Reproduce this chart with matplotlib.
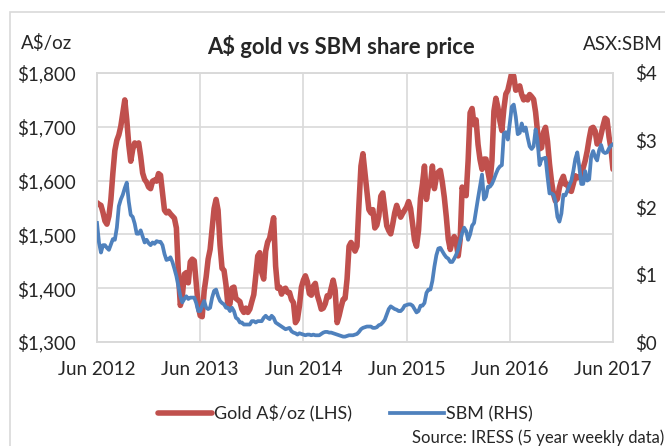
import pandas as pd
import matplotlib.pyplot as plt
import matplotlib.dates as mdates
from matplotlib.ticker import FuncFormatter
from matplotlib.patches import Rectangle

# Weekly data, Jun 2012 - Jun 2017
weeks = pd.date_range("2012-06-08", periods=261, freq="W-FRI")

gold_aud = [
    1559, 1556, 1554, 1541, 1525, 1519, 1534, 1565, 1614, 1656,
    1675, 1685, 1701, 1726, 1750, 1713, 1667, 1636, 1658, 1670,
    1667, 1670, 1645, 1614, 1602, 1597, 1588, 1585, 1599, 1601,
    1599, 1613, 1610, 1577, 1545, 1540, 1543, 1538, 1534, 1530,
    1512, 1429, 1368, 1386, 1426, 1429, 1410, 1449, 1454, 1451,
    1410, 1367, 1349, 1347, 1395, 1421, 1454, 1472, 1511, 1548,
    1565, 1545, 1480, 1437, 1433, 1406, 1367, 1371, 1400, 1402,
    1381, 1378, 1375, 1361, 1355, 1363, 1355, 1361, 1375, 1388,
    1423, 1460,
    1466, 1429, 1417, 1469, 1486, 1493, 1512, 1531, 1441, 1400,
    1402, 1389, 1398, 1400, 1392, 1392, 1379, 1373, 1336, 1342,
    1367, 1402, 1415, 1423, 1412, 1390, 1387, 1404, 1409, 1387,
    1375, 1361, 1363, 1371, 1386, 1384, 1400, 1415, 1396, 1336,
    1349, 1365, 1379, 1381, 1417, 1478, 1485, 1478, 1469, 1478,
    1556, 1627, 1650, 1614, 1580, 1546, 1540, 1546, 1512, 1517,
    1534, 1571, 1577, 1546, 1516, 1507, 1501, 1519, 1540, 1554,
    1542, 1532, 1539, 1545, 1551, 1561, 1548, 1520, 1489, 1478,
    1507, 1567, 1594, 1627, 1565, 1590,
    1593, 1627, 1585, 1606, 1616, 1619, 1597, 1569, 1533, 1491,
    1472, 1488, 1496, 1486, 1460, 1491, 1588, 1574, 1572, 1637,
    1726, 1734, 1704, 1713, 1667, 1639, 1621, 1640, 1640, 1616,
    1597, 1637, 1729, 1753, 1736, 1711, 1693, 1733, 1761, 1768,
    1784, 1801, 1794, 1768, 1770, 1776, 1760, 1750, 1755, 1750,
    1760, 1756, 1751, 1727, 1690, 1659, 1661, 1690, 1699, 1673,
    1631, 1599, 1575, 1562, 1566, 1587, 1600, 1608, 1593, 1593,
    1582, 1580, 1594, 1609, 1605, 1607, 1607, 1624, 1637, 1655,
    1678, 1697, 1699, 1692, 1668, 1671, 1686, 1702, 1716, 1713,
    1681, 1659, 1621,
]

sbm_price = [
    1.77, 1.48, 1.33, 1.44, 1.44, 1.40, 1.37, 1.45, 1.53, 1.52,
    1.70, 2.02, 2.12, 2.19, 2.29, 2.37, 2.09, 1.89, 1.86, 1.76,
    1.61, 1.61, 1.66, 1.57, 1.48, 1.52, 1.47, 1.44, 1.48, 1.46,
    1.50, 1.49, 1.49, 1.44, 1.31, 1.22, 1.23, 1.26, 1.19, 1.09,
    0.98, 0.83, 0.68, 0.59, 0.64, 0.68, 0.64, 0.66, 0.66, 0.66,
    0.58, 0.46, 0.46, 0.54, 0.61, 0.51, 0.49, 0.51, 0.66, 0.76,
    0.78, 0.68, 0.61, 0.58, 0.56, 0.51, 0.51, 0.46, 0.51, 0.46,
    0.36, 0.34, 0.29, 0.29, 0.26, 0.26, 0.26, 0.26, 0.31, 0.31,
    0.29, 0.31,
    0.31, 0.31, 0.36, 0.39, 0.36, 0.34, 0.39, 0.36, 0.29, 0.27,
    0.25, 0.23, 0.21, 0.19, 0.20, 0.21, 0.16, 0.14, 0.13, 0.11,
    0.13, 0.12, 0.11, 0.10, 0.11, 0.11, 0.10, 0.11, 0.10, 0.10,
    0.10, 0.12, 0.14, 0.15, 0.15, 0.14, 0.14, 0.13, 0.12, 0.11,
    0.10, 0.09, 0.08, 0.08, 0.09, 0.10, 0.10, 0.10, 0.11, 0.12,
    0.15, 0.19, 0.21, 0.22, 0.23, 0.23, 0.23, 0.21, 0.21, 0.22,
    0.25, 0.26, 0.29, 0.33, 0.41, 0.49, 0.53, 0.51, 0.49, 0.48,
    0.46, 0.46, 0.49, 0.54, 0.55, 0.56, 0.56, 0.54, 0.49, 0.44,
    0.46, 0.54, 0.54, 0.58, 0.73, 0.78,
    0.78, 0.91, 1.12, 1.29, 1.39, 1.40, 1.35, 1.30, 1.26, 1.24,
    1.19, 1.19, 1.24, 1.30, 1.38, 1.50, 1.62, 1.70, 1.65, 1.52,
    1.60, 1.73, 1.77, 1.96, 2.14, 2.32, 2.49, 2.12, 2.16, 2.31,
    2.31, 2.35, 2.42, 2.50, 2.57, 2.61, 2.63, 3.10, 3.12, 3.01,
    3.26, 3.50, 3.53, 3.35, 3.09, 3.11, 3.25, 3.14, 3.19, 3.04,
    2.91, 2.87, 2.91, 3.16, 2.99, 2.63, 2.72, 2.73, 2.74, 2.46,
    2.21, 2.21, 2.19, 2.09, 1.86, 1.79, 1.91, 2.19, 2.18, 2.25,
    2.33, 2.40, 2.54, 2.72, 2.82, 2.61, 2.35, 2.35, 2.54, 2.40,
    2.42, 2.76, 2.84, 2.75, 2.70, 2.85, 2.93, 2.83, 2.81, 2.82,
    2.88, 2.92, 2.94,
]

gold_ticks = [1300, 1400, 1500, 1600, 1700, 1800]
sbm_ticks = [0, 1, 2, 3, 4]

RED = "#C0504D"
BLUE = "#4F81BD"
GRID = "#D9D9D9"
TXT = "#262626"

plt.rcParams["font.family"] = ["Lato", "DejaVu Sans"]
plt.rcParams["font.size"] = 13.5

fig = plt.figure(figsize=(6.65, 4.46), dpi=100)
ax = fig.add_axes([97 / 665, 1 - 342 / 446, (613 - 97) / 665, (342 - 73) / 446])

# outer chart frame
fig.patches.append(Rectangle((10 / 665, -0.1), 1.2, 1 - 12 / 446 + 0.1,
                             transform=fig.transFigure, fill=False,
                             edgecolor=GRID, linewidth=1.2))

line_g, = ax.plot(weeks, gold_aud, color=RED, linewidth=4.0,
                  solid_joinstyle="round", solid_capstyle="round", zorder=2)
ax.set_ylim(1300, 1800)
ax.set_yticks(gold_ticks)
ax.yaxis.set_major_formatter(FuncFormatter(lambda v, p: f"${v:,.0f}"))
ax.set_xlim(weeks[0], weeks[-1])
ax.set_xticks(weeks[::52])
ax.xaxis.set_major_formatter(mdates.DateFormatter("%b %Y"))
ax.grid(True, color=GRID, linewidth=1.2)
ax.set_axisbelow(True)

ax2 = ax.twinx()
line_s, = ax2.plot(weeks, sbm_price, color=BLUE, linewidth=2.7,
                   solid_joinstyle="round", zorder=3)
ax2.set_ylim(0, 4)
ax2.set_yticks(sbm_ticks)
ax2.yaxis.set_major_formatter(FuncFormatter(lambda v, p: f"${v:.0f}"))

for a in (ax, ax2):
    for s in a.spines.values():
        s.set_color(GRID)
        s.set_linewidth(1.2)
    a.tick_params(length=0, colors=TXT, labelsize=13.5)
ax.tick_params(axis="y", pad=15)
ax.tick_params(axis="x", pad=14)
ax2.tick_params(axis="y", pad=16)

fig.text(341 / 665, 1 - 46 / 446, "A$ gold vs SBM share price",
         ha="center", va="center", fontsize=15.8, fontweight="bold", color=TXT)
fig.text(47 / 665, 1 - 43 / 446, "A$/oz", ha="center", va="center",
         fontsize=13.5, color=TXT)
fig.text(623 / 665, 1 - 45 / 446, "ASX:SBM", ha="center", va="center",
         fontsize=13.5, color=TXT)

fig.legend([line_g, line_s], ["Gold A$/oz (LHS)", "SBM (RHS)"],
           loc="center", bbox_to_anchor=(345 / 665, 1 - 414 / 446), ncol=2,
           frameon=False, handlelength=3.0, handletextpad=0.1,
           columnspacing=2.1, fontsize=13, labelcolor=TXT)

fig.text(664 / 665, 1 - 438 / 446, "Source: IRESS (5 year weekly data)",
         ha="right", va="center", fontsize=12, color=TXT)

fig.savefig("out.png", dpi=100)
